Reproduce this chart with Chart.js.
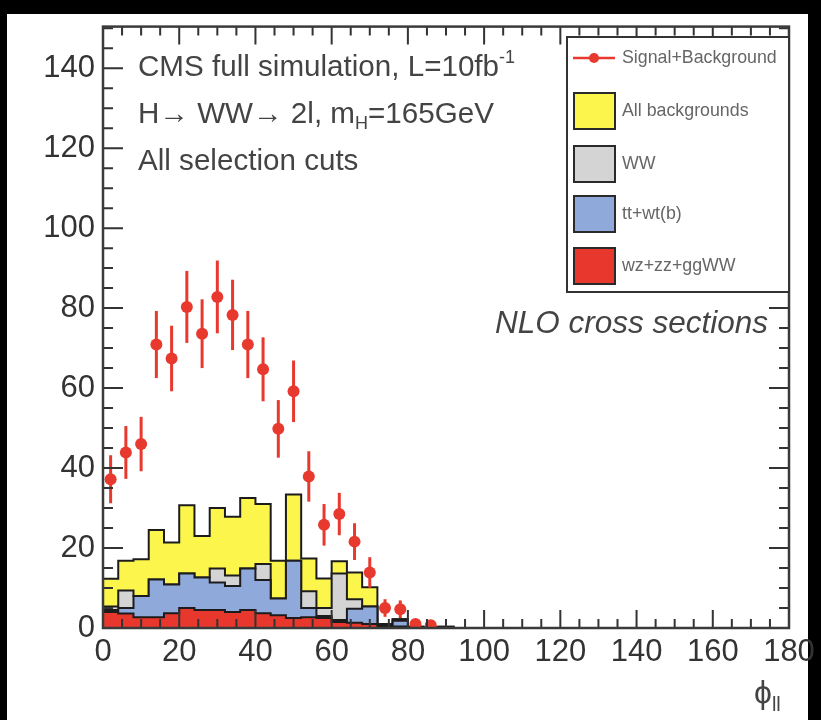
<!DOCTYPE html>
<html>
<head>
<meta charset="utf-8">
<script src="https://cdn.jsdelivr.net/npm/chart.js@4.4.1/dist/chart.umd.min.js"></script>
<style>
  html, body { margin: 0; padding: 0; background: #000; }
  #wrap { width: 821px; height: 720px; }
</style>
</head>
<body>
<div id="wrap"><canvas id="phiChart" width="821" height="720"></canvas></div>
<script>
/* ── Data (bin width 4 in phi_ll) ── */
var BIN_W = 4;
var binLow = [0, 4, 8, 12, 16, 20, 24, 28, 32, 36, 40, 44, 48, 52, 56, 60, 64, 68, 72, 76, 80, 84, 88];

// per-process contributions, stacked bottom to top
var wzzzggww = [4.0, 3.6, 2.7, 2.7, 3.7, 5.0, 4.5, 4.5, 4.0, 4.5, 3.7, 3.2, 2.5, 2.7, 2.5, 1.5, 1.3, 1.0, 0.4, 0.4, 0.1, 0, 0];
var ttwtb    = [0.5, 1.4, 5.3, 9.4, 7.2, 8.6, 8.1, 6.9, 6.5, 10.4, 8.3, 4.2, 14.3, 2.3, 0.5, 0.5, 3.5, 4.4, 0.2, 1.4, 0.1, 0, 0];
var ww       = [0.9, 4.4, 0, 0, 0, 0, 0, 3.5, 2.6, 0, 4.0, 0, 0, 4.2, 2.0, 11.6, 2.4, 0, 0.4, 0.4, 0.1, 0.2, 0.3];
var allBkg   = [12.3, 16.8, 17.2, 24.5, 21.4, 30.7, 23.0, 30.0, 27.8, 32.5, 31.0, 16.8, 33.4, 17.4, 12.4, 16.7, 13.9, 10.2, 1.0, 2.2, 0.3, 0.2, 0.3];

// signal + background points
var sigX   = [2, 6, 10, 14, 18, 22, 26, 30, 34, 38, 42, 46, 50, 54, 58, 62, 66, 70, 74, 78, 82, 86];
var sigY   = [37.2, 43.9, 46.0, 70.9, 67.4, 80.3, 73.6, 82.8, 78.3, 70.9, 64.7, 49.8, 59.2, 37.9, 25.8, 28.5, 21.6, 13.9, 5.0, 4.7, 1.0, 0.7];
var sigErr = [6.0, 6.6, 6.8, 8.4, 8.2, 9.0, 8.6, 9.1, 8.8, 8.4, 8.0, 7.2, 7.7, 6.3, 5.2, 5.3, 4.6, 3.8, 2.2, 2.2, 1.0, 0.8];

var xTicks = [0, 20, 40, 60, 80, 100, 120, 140, 160, 180];
var yTicks = [0, 20, 40, 60, 80, 100, 120, 140];

var legendLabels = ["Signal+Background", "All backgrounds", "WW", "tt+wt(b)", "wz+zz+ggWW"];

var C_RED = "#e8382e", C_BLUE = "#8fa9db", C_GREY = "#d4d4d4", C_YEL = "#fcf64c", C_PT = "#e8392f";
var FONT = "'Liberation Sans', Arial, sans-serif";

/* cumulative levels for drawing */
function cumulate(list) {
  var out = [], acc = binLow.map(function() { return 0; });
  list.forEach(function(arr) {
    acc = acc.map(function(v, i) { return v + arr[i]; });
    out.push(acc.slice());
  });
  return out;
}
var lev = cumulate([wzzzggww, ttwtb, ww]);

function stepPoints(levels) {
  var pts = [{ x: binLow[0], y: 0 }];
  levels.forEach(function(v, i) { pts.push({ x: binLow[i], y: v }); });
  pts.push({ x: binLow[binLow.length - 1] + BIN_W, y: 0 });
  return pts;
}

function histSet(levels, color, order) {
  return {
    data: stepPoints(levels), stepped: "before", fill: "origin",
    backgroundColor: color, borderColor: "#1c1c1c", borderWidth: 2,
    pointRadius: 0, order: order
  };
}

/* ── Plugin: page background, frame, inner ticks, error bars, texts, legend ── */
var rootStyle = {
  id: "rootStyle",
  beforeDraw: function(chart) {
    var c = chart.ctx;
    c.save();
    c.fillStyle = "#000";
    c.fillRect(0, 0, chart.width, chart.height);
    c.fillStyle = "#fff";
    c.fillRect(7, 14, 801, 706);
    c.restore();
  },
  afterDatasetsDraw: function(chart) {
    var c = chart.ctx, xs = chart.scales.x, ys = chart.scales.y, a = chart.chartArea;
    c.save();
    // error bars
    c.strokeStyle = C_PT;
    c.lineWidth = 3;
    sigX.forEach(function(x, i) {
      var px = xs.getPixelForValue(x);
      c.beginPath();
      c.moveTo(px, ys.getPixelForValue(Math.max(sigY[i] - sigErr[i], 0)));
      c.lineTo(px, ys.getPixelForValue(sigY[i] + sigErr[i]));
      c.stroke();
    });
    // ticks
    c.strokeStyle = "#333";
    c.lineWidth = 2;
    var v, p, len;
    for (v = 0; v <= 180; v += 5) {
      p = xs.getPixelForValue(v);
      len = v % 20 === 0 ? 18 : 9;
      c.beginPath();
      c.moveTo(p, a.bottom); c.lineTo(p, a.bottom - len);
      c.moveTo(p, a.top); c.lineTo(p, a.top + len);
      c.stroke();
    }
    for (v = 0; v <= ys.max; v += 5) {
      p = ys.getPixelForValue(v);
      len = v % 20 === 0 ? 20 : 10;
      c.beginPath();
      c.moveTo(a.left, p); c.lineTo(a.left + len, p);
      c.moveTo(a.right, p); c.lineTo(a.right - len, p);
      c.stroke();
    }
    // frame
    c.lineWidth = 2.5;
    c.strokeStyle = "#3a3a3a";
    c.strokeRect(a.left, a.top, a.right - a.left, a.bottom - a.top);
    c.restore();
  },
  afterDraw: function(chart) {
    var c = chart.ctx;
    c.save();
    c.fillStyle = "#444";
    c.textBaseline = "alphabetic";

    function rich(parts, x, y) {
      parts.forEach(function(pt) {
        c.font = (pt.style || "") + " " + pt.size + "px " + FONT;
        c.fillText(pt.t, x, y + (pt.dy || 0));
        x += c.measureText(pt.t).width;
      });
    }
    rich([{ t: "CMS full simulation, L=10fb", size: 29.6 }, { t: "-1", size: 18, dy: -13 }], 138, 76);
    rich([{ t: "H\u2192 WW\u2192 2l, m", size: 29.6 }, { t: "H", size: 18, dy: 6 }, { t: "=165GeV", size: 29.6 }], 138, 123);
    rich([{ t: "All selection cuts", size: 29.6 }], 138, 170);
    rich([{ t: "NLO cross sections", size: 31.5, style: "italic" }], 495, 333);
    rich([{ t: "\u03d5", size: 32 }, { t: "ll", size: 20, dy: 8 }], 754, 703);

    // legend
    var lx = 567, ly = 37, lw = 222, lh = 255;
    c.fillStyle = "#fff";
    c.fillRect(lx, ly, lw, lh);
    c.lineWidth = 2;
    c.strokeStyle = "#333";
    c.strokeRect(lx, ly, lw, lh);

    var rowsY = [58, 111, 164, 214, 266];
    var boxCol = [null, C_YEL, C_GREY, C_BLUE, C_RED];
    c.font = "17.8px " + FONT;
    c.textBaseline = "middle";
    legendLabels.forEach(function(lbl, i) {
      var cy = rowsY[i];
      if (i === 0) {
        c.strokeStyle = C_PT; c.lineWidth = 2.5;
        c.beginPath(); c.moveTo(573, cy); c.lineTo(615, cy); c.stroke();
        c.fillStyle = C_PT;
        c.beginPath(); c.arc(594, cy, 5, 0, Math.PI * 2); c.fill();
      } else {
        c.fillStyle = boxCol[i];
        c.fillRect(574, cy - 18, 41, 36);
        c.strokeStyle = "#2a2a2a"; c.lineWidth = 2;
        c.strokeRect(574, cy - 18, 41, 36);
      }
      c.fillStyle = "#666";
      c.fillText(lbl, 622, cy);
    });
    c.restore();
  }
};

/* ── Chart ── */
var ctx = document.getElementById("phiChart").getContext("2d");
new Chart(ctx, {
  type: "line",
  data: {
    datasets: [
      {
        data: sigX.map(function(x, i) { return { x: x, y: sigY[i] }; }),
        showLine: false, pointRadius: 6, pointHoverRadius: 6,
        pointBackgroundColor: C_PT, pointBorderWidth: 0, order: 0
      },
      histSet(lev[0], C_RED, 1),
      histSet(lev[1], C_BLUE, 2),
      histSet(lev[2], C_GREY, 3),
      histSet(allBkg, C_YEL, 4)
    ]
  },
  options: {
    responsive: false, animation: false, devicePixelRatio: 1,
    layout: { padding: { top: 21, right: 32, left: 0, bottom: 0 } },
    plugins: { legend: { display: false }, tooltip: { enabled: false } },
    scales: {
      x: {
        type: "linear", min: 0, max: 180,
        grid: { display: false, drawTicks: false, tickLength: 0 },
        border: { display: false },
        afterBuildTicks: function(s) { s.ticks = xTicks.map(function(v) { return { value: v }; }); },
        ticks: { color: "#333", padding: 6, maxRotation: 0, autoSkip: false, font: { family: FONT, size: 31 } },
        afterFit: function(s) { s.height = 92; }
      },
      y: {
        type: "linear", min: 0, max: 150.4,
        grid: { display: false, drawTicks: false, tickLength: 0 },
        border: { display: false },
        afterBuildTicks: function(s) { s.ticks = yTicks.map(function(v) { return { value: v }; }); },
        ticks: { color: "#333", padding: 8, autoSkip: false, font: { family: FONT, size: 31 } },
        afterFit: function(s) { s.width = 103; }
      }
    }
  },
  plugins: [rootStyle]
});
</script>
</body>
</html>
